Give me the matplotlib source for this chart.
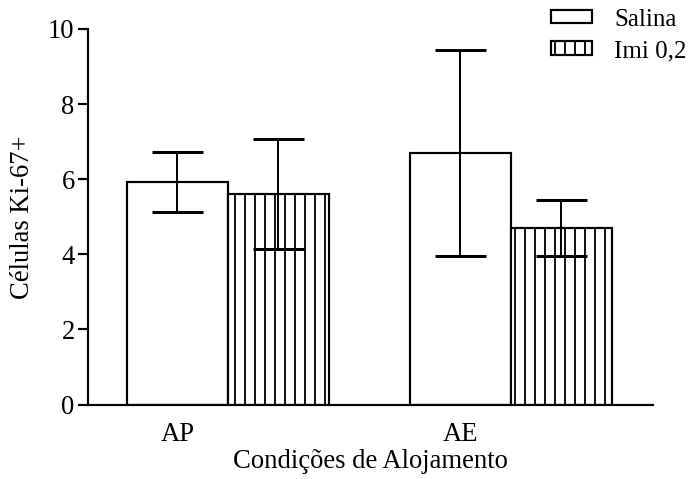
import numpy as np
import matplotlib
matplotlib.use("Agg")
import matplotlib.pyplot as plt
from matplotlib.patches import Patch

# --- data: Ki-67+ cell counts (mean +/- error) per housing condition ---
groups = ['AP', 'AE']
series = ['Salina', 'Imi 0,2']
salina_mean = [5.92, 6.69]
salina_err = [0.80, 2.74]
imi_mean = [5.60, 4.70]
imi_err = [1.46, 0.74]

plt.rcParams['font.family'] = ['Liberation Serif', 'DejaVu Serif']
plt.rcParams['hatch.linewidth'] = 1.1
plt.rcParams['hatch.color'] = 'black'

fig = plt.figure(figsize=(5.8, 479 / 120), dpi=120)
ax = fig.add_axes([88 / 696, 1 - 404.5 / 479, 565 / 696, 375.5 / 479])

pos = np.array([0.0, 2.8])
width = 1.0
bar_kw = dict(width=width, edgecolor='black', linewidth=1.3, zorder=2)

ax.bar(pos - width / 2, salina_mean, facecolor='white', label=series[0], **bar_kw)
ax.bar(pos + width / 2, imi_mean, facecolor='white', hatch='||', label=series[1], **bar_kw)

# caps are half a bar wide
err_kw = dict(fmt='none', ecolor='black', elinewidth=1.2, capsize=15.3, capthick=1.8, zorder=3)
ax.errorbar(pos - width / 2, salina_mean, yerr=salina_err, **err_kw)
ax.errorbar(pos + width / 2, imi_mean, yerr=imi_err, **err_kw)

ax.set_xlim(-1.386, 4.208)
ax.set_ylim(0, 10)
ax.set_yticks([0, 2, 4, 6, 8, 10])
ax.set_xticks(pos - width / 2)
ax.set_xticklabels(groups)

for side in ['top', 'right']:
    ax.spines[side].set_visible(False)
for side in ['left', 'bottom']:
    ax.spines[side].set_linewidth(1.3)

ax.tick_params(axis='y', length=6, width=1.3, labelsize=16, pad=2)
ax.tick_params(axis='x', length=0, labelsize=16, pad=10.5)

ax.set_xlabel('Condições de Alojamento', fontsize=16, labelpad=1.5)
ax.set_ylabel('Células Ki-67+', fontsize=16, labelpad=8)

handles = [Patch(facecolor='white', edgecolor='black', linewidth=1.3),
           Patch(facecolor='white', edgecolor='black', linewidth=1.3, hatch='||')]
fig.legend(handles, series, loc='upper left', bbox_to_anchor=(538 / 696, 1 + 4 / 479),
           frameon=False, fontsize=15, handlelength=1.65, handleheight=0.45,
           handletextpad=0.9, labelspacing=0.38, borderpad=0.0)

fig.savefig('out.png', dpi=120)
